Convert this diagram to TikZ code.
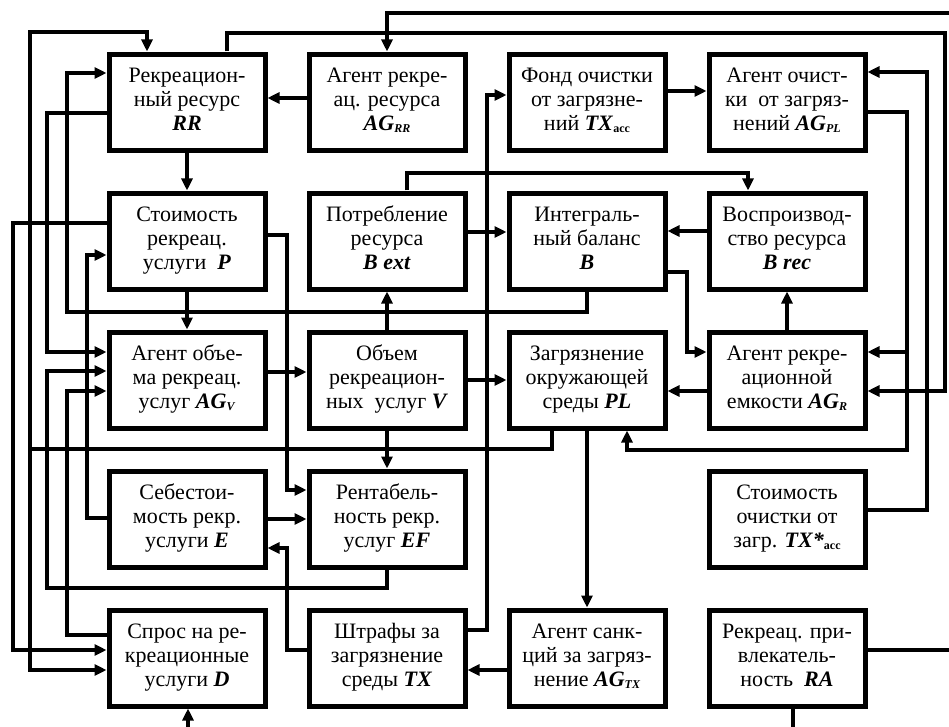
\documentclass[tikz,border=0pt]{standalone}
\usepackage{fontspec}
\setmainfont{Liberation Serif}
\usetikzlibrary{matrix,arrows.meta}
\newcommand\tri[3]{\begin{tabular}{@{}c@{}}#1\\#2\\#3\end{tabular}}
\newcommand\bi[1]{\textbf{\textit{#1}}}
\newcommand\lo[1]{\raisebox{-1.5pt}{\fontsize{12}{12}\selectfont #1}}

\begin{document}
\begin{tikzpicture}[x=1pt,y=-1pt,line width=4pt,>={Triangle[length=12pt,width=11pt]}]
          \useasboundingbox (0,0) rectangle (949,727);
          \matrix (m) at (487,380) [matrix of nodes,column sep=39pt,row sep=38pt,
            nodes={draw,line width=5pt,minimum width=156pt,minimum height=96pt,inner sep=0pt,font=\fontsize{22}{24}\selectfont},ampersand replacement=\&]
            {
              \tri{Рекреацион-}{ный ресурс}{\bi{RR}} \& \tri{Агент рекре-}{ац. ресурса}{\bi{AG}\lo{\bi{RR}}} \& \tri{Фонд очистки}{от загрязне-}{ний \bi{TX}\lo{\textbf{acc}}} \& \tri{Агент очист-}{ки~ от загряз-}{нений \bi{AG}\lo{\bi{PL}}} \\
              \tri{Стоимость}{рекреац.}{услуги~ \bi{P}} \& \tri{Потребление}{ресурса}{\bi{B ext}} \& \tri{Интеграль-}{ный баланс}{\bi{B}} \& \tri{Воспроизвод-}{ство ресурса}{\bi{B rec}} \\
              \tri{Агент объе-}{ма рекреац.}{услуг \bi{AG}\lo{\bi{V}}} \& \tri{Объем}{рекреацион-}{ных~ услуг \bi{V}} \& \tri{Загрязнение}{окружающей}{среды \bi{PL}} \& \tri{Агент рекре-}{ационной}{емкости \bi{AG}\lo{\bi{R}}} \\
              \tri{Себестои-}{мость рекр.}{услуги \bi{E}} \& \tri{Рентабель-}{ность рекр.}{услуг \bi{EF}} \& \& \tri{Стоимость}{очистки от}{загр. \bi{TX*}\lo{\textbf{acc}}} \\
              \tri{Спрос на ре-}{креационные}{услуги \bi{D}} \& \tri{Штрафы за}{загрязнение}{среды \bi{TX}} \& \tri{Агент санк-}{ций за загряз-}{нение \bi{AG}\lo{\bi{TX}}} \& \tri{Рекреац. при-}{влекатель-}{ность~ \bi{RA}} \\
              };
              \draw[->] (m-1-1) -- (m-2-1);
              \draw[->] (m-2-1) -- (m-3-1);
              \draw[->] (m-1-2.west |- 0,98) -- (m-1-1.east |- 0,98);
              \draw[->] (m-1-3.east |- 0,91) -- (m-1-4.west |- 0,91);
              \draw[->] (m-2-2.east |- 0,232) -- (m-2-3.west |- 0,232);
              \draw[->] (m-2-4.west |- 0,231) -- (m-2-3.east |- 0,231);
              \draw[->] (m-3-4) -- (m-2-4);
              \draw[->] (m-3-2) -- (m-2-2);
              \draw[->] (m-3-1.east |- 0,372) -- (m-3-2.west |- 0,372);
              \draw[->] (m-3-2) -- (m-3-3);
              \draw[->] (m-3-4.west |- 0,391) -- (m-3-3.east |- 0,391);
              \draw[->] (m-3-2) -- (m-4-2);
              \draw[->] (m-4-1) -- (m-4-2);
              \draw[->] (m-3-3) -- (m-5-3);
              \draw[->] (m-5-3.west |- 0,670) -- (m-5-2.east |- 0,670);
              \draw[->] (m-2-2.north -| 407,0) |- (748,173) -- (m-2-4.north -| 748,0);
              \draw[->] (m-2-3.east |- 0,272) -| (687,352) -- (m-3-4.west |- 0,352);
              \draw[->] (m-5-2.east |- 0,630) -| (487,95) -- (m-1-3.west |- 0,95);
              \draw[->] (m-2-3.south) |- (67,312) |- (m-1-1.west |- 0,73);
              \draw[->] (m-1-1.west |- 0,113) -| (47,352) -- (m-3-1.west |- 0,352);
              \draw[->] (m-4-2.south) |- (47,588) |- (m-3-1.west |- 0,371);
              \draw[->] (m-5-1.west |- 0,635) -| (67,391) -- (m-3-1.west |- 0,391);
              \draw[->] (m-4-1.west |- 0,518) -| (87,255) -- (m-2-1.west |- 0,255);
              \draw[->] (m-2-1.west |- 0,223) -| (13,650) -- (m-5-1.west |- 0,650);
              \coordinate (pl) at (30,449);
              \draw[->] (m-3-3.south -| 552,0) |- (pl) |- (147,32) -- (m-1-1.north -| 147,0);
              \draw[->] (pl) |- (m-5-1.west |- 0,670);
              \draw[->] (m-2-1.east |- 0,235) -| (287,490) -- (m-4-2.west |- 0,490);
              \draw[->] (m-5-2.west |- 0,650) -| (287,548) -- (m-4-1.east |- 0,548);
              \coordinate (pl2) at (907,352);
              \draw[->] (m-1-4.east |- 0,112) -| (907,450) -| (m-3-3.south -| 627,0);
              \draw[->] (pl2) -- (m-3-4.east |- 0,352);
              \draw[->] (m-4-4.east |- 0,510) -| (927,72) -- (m-1-4.east |- 0,72);
              \draw[->] (m-1-1.north -| 227,0) |- (945,33) |- (m-3-4.east |- 0,391);
              \draw[->] (m-5-4.east |- 0,650) -| (956,13) -| (m-1-2.north);
              \draw[->] (m-5-4.south -| 793,0) |- (188,729) -- (m-5-1.south -| 188,0);
        \end{tikzpicture}
\end{document}
